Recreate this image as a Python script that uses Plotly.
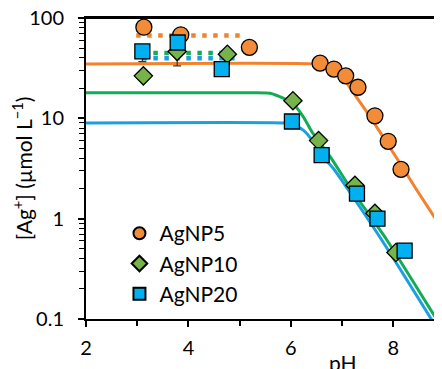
import plotly.graph_objects as go

# ---- measured data ----
np5_ph = [3.13, 3.85, 5.19, 6.57, 6.84, 7.07, 7.31, 7.64, 7.90, 8.15]
np5_ag = [81, 68, 51, 35.5, 31, 26.5, 20.4, 10.6, 5.9, 3.1]

np10_ph = [3.12, 3.78, 4.76, 6.04, 6.54, 7.25, 7.64, 8.05]
np10_ag = [26.5, 46.4, 43.6, 15.0, 6.0, 2.15, 1.13, 0.46]
np10_err_minus = [0, 13.1, 0, 0, 0, 0, 0, 0]

np20_ph = [3.10, 3.79, 4.65, 6.02, 6.60, 7.29, 7.69, 8.22]
np20_ag = [46.4, 57, 30.9, 9.3, 4.3, 1.78, 1.0, 0.48]
np20_err_minus = [9.6, 0, 0, 0, 0, 0, 0, 0]

# ---- mean levels (dotted) ----
mean5_ph = [2.98, 5.0]
mean5_ag = [67, 67]
mean10_ph = [3.1, 4.88]
mean10_ag = [44.7, 44.7]
mean20_ph = [3.1, 4.9]
mean20_ag = [39.8, 39.8]

# ---- model curves ----
mod5_ph = [2, 6.5, 6.82, 7.02, 7.25, 7.55, 7.84, 8.13, 8.46, 8.95]
mod5_ag = [34.7, 34.7, 32.6, 25.3, 17.1, 10.3, 6.07, 3.57, 1.92, 0.794]
mod10_ph = [2, 5.2, 5.59, 5.85, 6.04, 6.24, 6.41, 6.54, 6.77, 7.19, 7.87, 8.85]
mod10_ag = [18.0, 18.0, 17.8, 15.9, 14.0, 10.4, 7.35, 5.97, 4.13, 1.92, 0.617, 0.098]
mod20_ph = [2, 5.85, 6.02, 6.24, 6.44, 6.60, 6.83, 7.77, 8.75]
mod20_ag = [9.0, 9.0, 8.8, 7.64, 5.84, 4.30, 3.16, 0.617, 0.098]

x_ticks = [2, 4, 6, 8]
y_ticks = [0.1, 1, 10, 100]
y_tick_labels = ["0.1", "1", "10", "100"]

ORANGE_L = "#F3822E"
GREEN_L = "#13AC55"
BLUE_L = "#1A9FE0"
ORANGE_M = "#F28C38"
GREEN_M = "#76B34A"
BLUE_M = "#00B0F0"
FONT = "Lato"

fig = go.Figure()

for xs, ys, c in [(mod5_ph, mod5_ag, ORANGE_L), (mod10_ph, mod10_ag, GREEN_L), (mod20_ph, mod20_ag, BLUE_L)]:
    fig.add_trace(go.Scatter(x=xs, y=ys, mode="lines", showlegend=False, hoverinfo="skip",
                             line=dict(color=c, width=3, shape="spline", smoothing=0.6)))

for xs, ys, c in [(mean5_ph, mean5_ag, ORANGE_L), (mean10_ph, mean10_ag, GREEN_L), (mean20_ph, mean20_ag, BLUE_L)]:
    fig.add_trace(go.Scatter(x=xs, y=ys, mode="lines", showlegend=False, hoverinfo="skip",
                             line=dict(color=c, width=4.5, dash="4.5px,6.5px")))

fig.add_trace(go.Scatter(x=np5_ph, y=np5_ag, mode="markers", name="AgNP5",
                         marker=dict(symbol="circle", size=16, color=ORANGE_M,
                                     line=dict(color="black", width=1.3))))
fig.add_trace(go.Scatter(x=np10_ph, y=np10_ag, mode="markers", name="AgNP10",
                         error_y=dict(type="data", symmetric=False, array=[0] * len(np10_ph),
                                      arrayminus=np10_err_minus, color="#333333", thickness=1.2, width=4),
                         marker=dict(symbol="diamond", size=14, color=GREEN_M,
                                     line=dict(color="black", width=1.3))))
fig.add_trace(go.Scatter(x=np20_ph, y=np20_ag, mode="markers", name="AgNP20",
                         error_y=dict(type="data", symmetric=False, array=[0] * len(np20_ph),
                                      arrayminus=np20_err_minus, color="#333333", thickness=1.2, width=4),
                         marker=dict(symbol="square", size=15, color=BLUE_M,
                                     line=dict(color="black", width=1.3))))

fig.update_layout(
    width=434, height=361,
    margin=dict(l=78, r=0, t=10, b=50),
    paper_bgcolor="white", plot_bgcolor="white",
    font=dict(family=FONT, size=20, color="black"),
    showlegend=True,
    legend=dict(x=0.094, y=0.352, xanchor="left", yanchor="top",
                bgcolor="rgba(0,0,0,0)", font=dict(size=21, family=FONT),
                itemsizing="constant", tracegroupgap=0),
    xaxis=dict(range=[2, 8.95], tickvals=x_ticks, ticks="outside", ticklen=6, tickwidth=1.5,
               tickcolor="black", showline=True, linecolor="black", linewidth=2, mirror=True,
               showgrid=False, zeroline=False, tickfont=dict(size=20), ticklabelstandoff=4,
               automargin=False, ticklabeloverflow="allow",
               minor=dict(dtick=1, tick0=1, ticks="outside", ticklen=5, tickcolor="black", tickwidth=1.5)),
    yaxis=dict(type="log", range=[-1, 2], tickvals=y_ticks, ticktext=y_tick_labels,
               ticks="outside", ticklen=6, tickwidth=1.5, tickcolor="black",
               showline=True, linecolor="black", linewidth=2, showgrid=False, zeroline=False,
               tickfont=dict(size=20), ticklabelstandoff=10, automargin=False,
               ticklabeloverflow="allow",
               minor=dict(dtick="D1", ticks="outside", ticklen=5, tickcolor="black", tickwidth=1.3),
               title=dict(text="[Ag<sup>+</sup>] (µmol L<sup>−1</sup>)", font=dict(size=21), standoff=2)),
    shapes=[dict(type="line", xref="paper", yref="paper", x0=0, x1=1, y0=1, y1=1,
                 line=dict(color="black", width=2), layer="above")],
    annotations=[dict(text="pH", x=0.722, y=0, xref="paper", yref="paper", xanchor="center",
                      yanchor="middle", yshift=-43, showarrow=False, font=dict(size=21))],
)

fig.write_html("out.html")
